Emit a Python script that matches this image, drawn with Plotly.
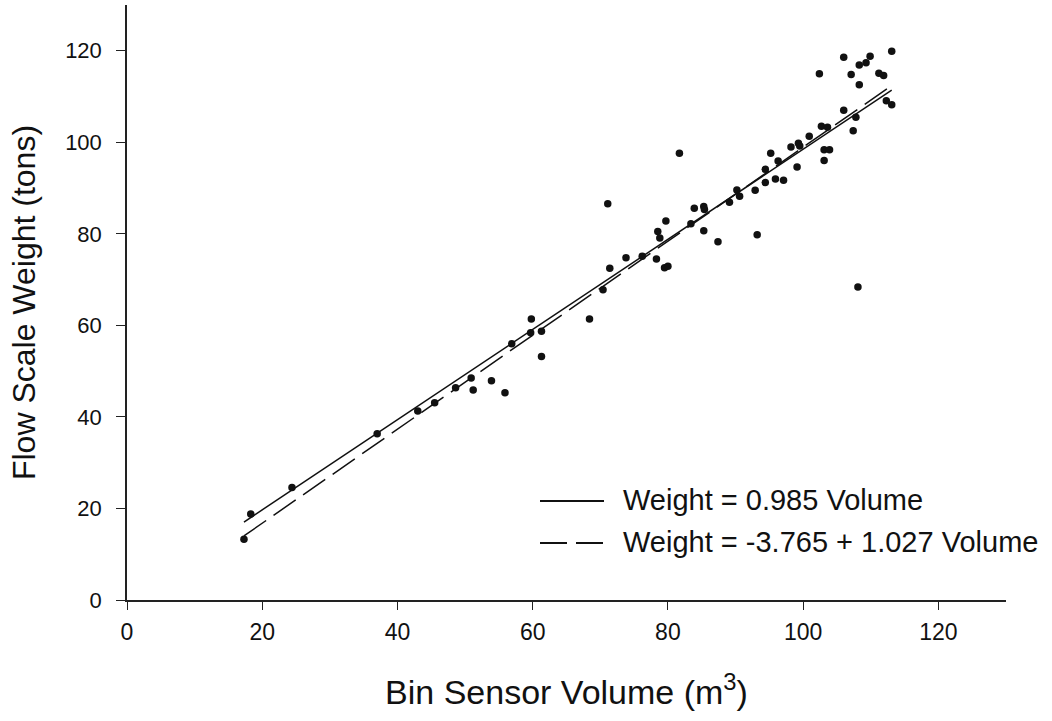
import plotly.graph_objects as go

volume = [17.3, 18.3, 24.4, 37.0, 43.0, 45.5, 48.6, 50.9, 51.2, 53.9, 55.9, 56.9,
          59.8, 59.7, 61.3, 61.3, 68.4, 70.4, 71.4, 71.1, 73.8, 76.2, 78.3, 78.5,
          78.8, 79.7, 79.5, 80.0, 81.7, 83.4, 83.9, 85.3, 85.4, 85.3, 87.4, 89.1,
          90.2, 90.6, 92.9, 93.2, 94.4, 94.4, 95.2, 95.9, 96.3, 97.1, 98.2, 99.1,
          99.3, 99.5, 100.9, 102.7, 103.6, 103.1, 103.9, 103.1, 102.4, 106.0, 106.0,
          107.1, 107.4, 107.8, 108.3, 108.3, 109.3, 109.9, 111.2, 111.9, 112.3,
          113.1, 113.1, 108.1]
weight = [13.3, 18.8, 24.6, 36.3, 41.3, 43.1, 46.4, 48.5, 45.9, 47.9, 45.3, 56.0,
          61.4, 58.4, 58.7, 53.2, 61.4, 67.8, 72.5, 86.6, 74.8, 75.1, 74.5, 80.5,
          79.1, 82.8, 72.6, 72.9, 97.6, 82.2, 85.6, 86.0, 85.3, 80.7, 78.3, 86.9,
          89.6, 88.2, 89.5, 79.8, 94.1, 91.2, 97.6, 92.0, 95.9, 91.7, 99.0, 94.6,
          99.8, 99.2, 101.3, 103.5, 103.3, 98.4, 98.4, 96.0, 115.0, 118.6, 107.0,
          114.8, 102.5, 105.5, 116.9, 112.6, 117.4, 118.8, 115.1, 114.6, 109.1,
          108.2, 119.9, 68.4]

fit1_slope = 0.985
fit2_intercept = -3.765
fit2_slope = 1.027
fit_x = [min(volume), max(volume)]
legend_labels = ["Weight = 0.985 Volume", "Weight = -3.765 + 1.027 Volume"]
tick_vals = [0, 20, 40, 60, 80, 100, 120]

FONT = "Liberation Sans, Arial, sans-serif"
DASH = "27px,9px"

fig = go.Figure()
fig.add_trace(go.Scatter(x=volume, y=weight, mode="markers",
                         marker=dict(color="#111", size=7.5), showlegend=False))
fig.add_trace(go.Scatter(x=fit_x, y=[fit1_slope * v for v in fit_x], mode="lines",
                         line=dict(color="#111", width=1.5), showlegend=False))
fig.add_trace(go.Scatter(x=fit_x, y=[fit2_intercept + fit2_slope * v for v in fit_x],
                         mode="lines", line=dict(color="#111", width=1.5, dash=DASH),
                         showlegend=False))

# manual legend
L = 127; R = 1006; T = 5; B = 600
def px(x): return (x - L) / (R - L)
def py(y): return (B - y) / (B - T)

for i, (yy, dash) in enumerate([(501, "solid"), (543, DASH)]):
    fig.add_shape(type="line", xref="paper", yref="paper",
                  x0=px(540), x1=px(604), y0=py(yy), y1=py(yy),
                  line=dict(color="#111", width=2, dash=dash))
    fig.add_annotation(xref="paper", yref="paper", x=px(621), y=py(yy - 1),
                       text=legend_labels[i], showarrow=False, xanchor="left",
                       yanchor="middle", font=dict(family=FONT, size=29, color="#111"))

fig.update_layout(
    width=1052, height=721,
    margin=dict(l=L, r=1052 - R, t=T, b=721 - B),
    plot_bgcolor="white", paper_bgcolor="white",
    font=dict(family=FONT, color="#111"),
)
fig.update_xaxes(range=[0, 130], tickvals=tick_vals, showgrid=False, zeroline=False,
                 showline=True, linecolor="#222", linewidth=1.5, ticks="outside",
                 ticklen=8, tickcolor="#222", tickfont=dict(size=23),
                 ticklabelstandoff=3,
                 title=dict(text="Bin Sensor Volume (m<sup>3</sup>)", font=dict(size=34),
                            standoff=36))
fig.update_yaxes(range=[0, 130], tickvals=tick_vals, showgrid=False, zeroline=False,
                 showline=True, linecolor="#222", linewidth=1.5, ticks="outside",
                 ticklen=9, tickcolor="#222", tickfont=dict(size=22),
                 ticklabelstandoff=10,
                 title=dict(text="Flow Scale Weight (tons)", font=dict(size=32),
                            standoff=20))

fig.write_html("out.html")
